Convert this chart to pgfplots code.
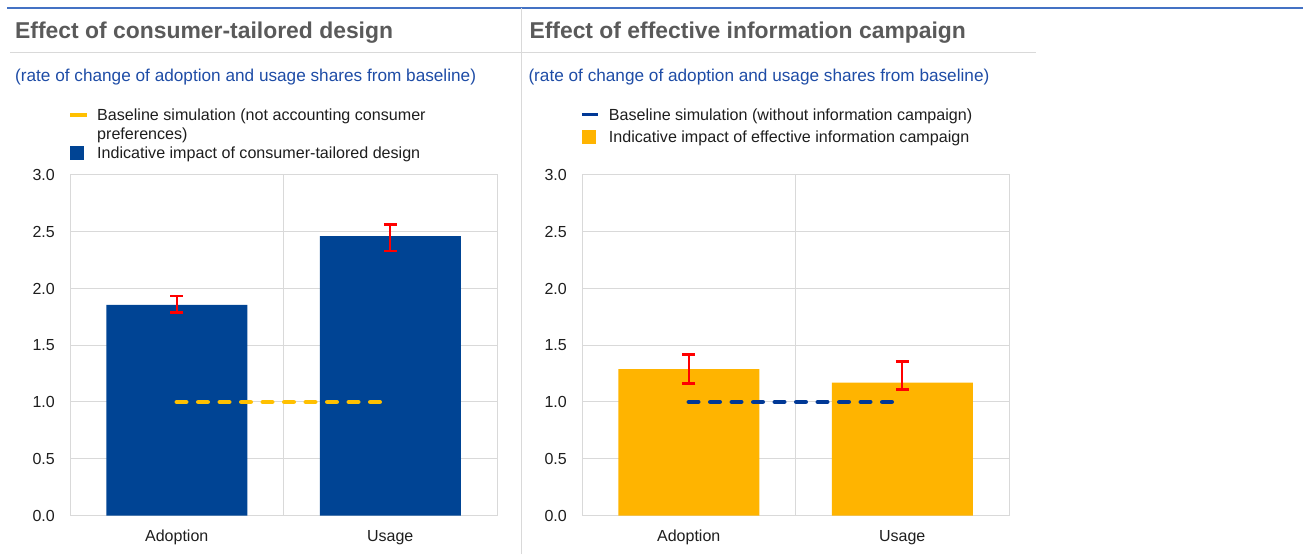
\documentclass[border=0pt]{standalone}
\usepackage{fontspec}
\setmainfont{Liberation Sans}
\usepackage{pgfplots}
\pgfplotsset{compat=1.18}
\definecolor{ecbblue}{RGB}{0,68,148}
\definecolor{dashblue}{RGB}{0,56,150}
\definecolor{ecbyellow}{RGB}{255,180,0}
\definecolor{dashyellow}{RGB}{255,192,0}
\definecolor{gridgray}{RGB}{217,217,217}
\definecolor{titlegray}{RGB}{90,90,90}
\definecolor{subblue}{RGB}{30,76,166}
\definecolor{topblue}{RGB}{68,114,196}
\definecolor{txt}{RGB}{30,30,30}
\newcommand{\lgd}[1]{\begin{tabular}[t]{@{}l@{}}#1\end{tabular}}
\pgfplotsset{
  panel/.style={
    scale only axis, width=427pt, height=340.5pt,
    anchor=south west,
    xmin=-0.5, xmax=1.5, ymin=0, ymax=3,
    xtick={0,1}, xticklabels={Adoption,Usage},
    ytick={0,0.5,1,1.5,2,2.5,3},
    /pgf/number format/assume math mode=true,
    yticklabel style={/pgf/number format/fixed, /pgf/number format/fixed zerofill,
      /pgf/number format/precision=1, anchor=east, inner sep=0pt, xshift=-15pt},
    xticklabel style={anchor=base, yshift=-25.5pt},
    tick label style={font=\fontsize{16}{19}\selectfont, text=txt},
    major tick length=0pt,
    axis line style={gridgray, line width=1pt},
    ymajorgrids, grid style={gridgray, line width=1pt},
    extra x ticks={0.5}, extra x tick labels={}, extra x tick style={grid=major},
    legend style={at={(0,1)}, anchor=north west, xshift=-2pt, yshift=68.3pt, draw=none, fill=none,
      inner sep=0pt, column sep=0pt,
      font=\fontsize{16.1}{19}\selectfont, text=txt,
      cells={anchor=base west}, nodes={inner sep=0pt, text depth=}},
  },
  linelgd/.style={legend image code/.code={
      \path[draw=none,fill=none] (0pt,0pt) -- (27pt,0pt);
      \draw[##1] (0pt,5.5pt) -- (16.5pt,5.5pt);}},
  sqlgd/.style={legend image code/.code={
      \path[draw=none,fill=none] (0pt,0pt) -- (27pt,0pt);
      \fill[##1] (0pt,-1pt) rectangle (13pt,12pt);}},
  ebar/.style={error bars/.cd, y dir=both, y explicit,
      error bar style={draw=red, line width=2.4pt},
      error mark options={rotate=90, draw=red, mark size=6.5pt, line width=2.4pt}},
}
\begin{document}
\begin{tikzpicture}[x=1pt,y=1pt]
\useasboundingbox (0,0) rectangle (1303,554);
\draw[topblue, line width=2pt] (7,546) -- (1303,546);
\draw[gridgray, line width=1.5pt] (10,501.5) -- (1036,501.5);
\draw[gridgray, line width=1pt] (521,0) -- (521,546);
\node[anchor=base west, inner sep=0pt, font=\fontsize{22.9}{26}\selectfont\bfseries, text=titlegray] at (15,515.5) {Effect of consumer-tailored design};
\node[anchor=base west, inner sep=0pt, font=\fontsize{22.9}{26}\selectfont\bfseries, text=titlegray] at (529.3,515.5) {Effect of effective information campaign};
\node[anchor=base west, inner sep=0pt, font=\fontsize{17.2}{20}\selectfont, text=subblue] at (15,472.5) {(rate of change of adoption and usage shares from baseline)};
\node[anchor=base west, inner sep=0pt, font=\fontsize{17.2}{20}\selectfont, text=subblue] at (528.3,472.5) {(rate of change of adoption and usage shares from baseline)};

\begin{axis}[panel, at={(70pt,38.5pt)}]
\addlegendimage{linelgd, dashyellow, line width=4pt}
\addlegendentry{\lgd{Baseline simulation (not accounting consumer\\preferences)}}
\addlegendimage{sqlgd, ecbblue}
\addlegendentry{\lgd{Indicative impact of consumer-tailored design}}
\addplot[ybar, bar width=141pt, fill=ecbblue, draw=none, forget plot, ebar]
  coordinates {(0,1.856) += (0,0.079) -= (0,0.068)
               (1,2.461) += (0,0.103) -= (0,0.131)};
\addplot[dashyellow, line width=4.5pt, line cap=round, dash pattern=on 9.5pt off 12pt, forget plot]
  coordinates {(0,1) (1,1)};
\end{axis}

\begin{axis}[panel, at={(582pt,38.5pt)}, legend style={row sep=3pt}]
\addlegendimage{linelgd, dashblue, line width=3.5pt}
\addlegendentry{\lgd{Baseline simulation (without information campaign)}}
\addlegendimage{sqlgd, ecbyellow}
\addlegendentry{\lgd{Indicative impact of effective information campaign}}
\addplot[ybar, bar width=141pt, fill=ecbyellow, draw=none, forget plot, ebar]
  coordinates {(0,1.289) += (0,0.128) -= (0,0.127)
               (1,1.171) += (0,0.186) -= (0,0.062)};
\addplot[dashblue, line width=4.5pt, line cap=round, dash pattern=on 9.5pt off 12pt, forget plot]
  coordinates {(0,1) (1,1)};
\end{axis}
\end{tikzpicture}
\end{document}
